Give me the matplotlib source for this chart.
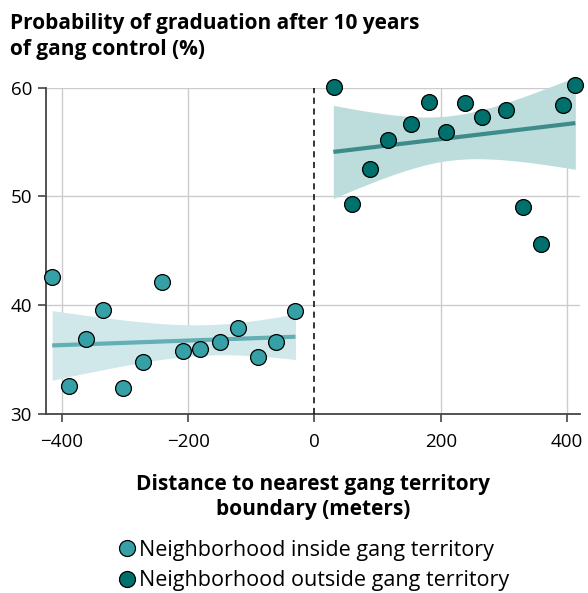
import numpy as np
import matplotlib
matplotlib.use("Agg")
import matplotlib.pyplot as plt
from matplotlib.lines import Line2D

plt.rcParams['font.family'] = ['Open Sans', 'Noto Sans', 'DejaVu Sans']

# Scatter data
inside_x = [-415, -389, -361, -335, -303, -272, -241, -208, -181, -150, -121, -90, -61, -30]
inside_y = [42.6, 32.6, 36.9, 39.6, 32.4, 34.8, 42.1, 35.8, 36.0, 36.6, 37.9, 35.2, 36.6, 39.5]
outside_x = [31, 59, 88, 117, 153, 181, 208, 239, 266, 303, 330, 358, 393, 413]
outside_y = [60.1, 49.3, 52.5, 55.2, 56.7, 58.7, 55.95, 58.6, 57.3, 58.0, 49.05, 45.6, 58.4, 60.3]

# Fitted lines (start/end) and confidence band half-widths (left end, narrowest, right end)
inside_fit_x = [-415, -30]
inside_fit_y = [36.3, 37.1]
inside_band_center = -166
inside_band_half = [3.2, 1.4, 2.1]
outside_fit_x = [30, 413]
outside_fit_y = [54.1, 56.75]
outside_band_center = 215
outside_band_half = [4.28, 2.05, 4.25]

x_ticks = [-400, -200, 0, 200, 400]
x_tick_labels = ['\u2212400', '\u2212200', '0', '200', '400']
y_ticks = [30, 40, 50, 60]

labels = ['Neighborhood inside gang territory', 'Neighborhood outside gang territory']
marker_colors = ['#35A0A5', '#00706C']
line_colors = ['#63AFB3', '#3E8C89']
band_colors = ['#D0E8EA', '#BDDCDC']


def band(fit_x, fit_y, xc, halves):
    xs = np.linspace(fit_x[0], fit_x[1], 120)
    slope = (fit_y[1] - fit_y[0]) / (fit_x[1] - fit_x[0])
    yh = fit_y[0] + slope * (xs - fit_x[0])
    h0 = halves[1]
    hl, hr = halves[0], halves[2]
    kl = (hl ** 2 - h0 ** 2) / (fit_x[0] - xc) ** 2
    kr = (hr ** 2 - h0 ** 2) / (fit_x[1] - xc) ** 2
    k = np.where(xs < xc, kl, kr)
    h = np.sqrt(h0 ** 2 + k * (xs - xc) ** 2)
    return xs, yh, yh - h, yh + h


fig = plt.figure(figsize=(5.88, 5.93), dpi=100)
ax = fig.add_axes([0.078, 0.302, 0.908, 0.550])

groups = [
    (inside_x, inside_y, inside_fit_x, inside_fit_y, inside_band_center, inside_band_half),
    (outside_x, outside_y, outside_fit_x, outside_fit_y, outside_band_center, outside_band_half),
]
for (xx, yy, fx, fy, xc, hv), mc, lc, bc in zip(groups, marker_colors, line_colors, band_colors):
    xs, yh, lo, hi = band(fx, fy, xc, hv)
    ax.fill_between(xs, lo, hi, color=bc, lw=0, zorder=2, clip_on=False)
    ax.plot(xs, yh, color=lc, lw=3, zorder=3, clip_on=False, solid_capstyle='butt')
    ax.scatter(xx, yy, s=130, color=mc, edgecolor='black', linewidth=0.9, zorder=4, clip_on=False)

ax.axvline(0, color='black', lw=1.1, ls=(0, (4, 3)), zorder=3)

ax.set_xlim(-425, 420)
ax.set_ylim(30, 60)
ax.set_xticks(x_ticks)
ax.set_xticklabels(x_tick_labels)
ax.set_yticks(y_ticks)
for xv in x_ticks:
    if xv != 0:
        ax.axvline(xv, color='#CCCCCC', lw=1, zorder=1)
for yv in y_ticks[1:]:
    ax.axhline(yv, color='#CCCCCC', lw=1, zorder=1)

for s in ['top', 'right']:
    ax.spines[s].set_visible(False)
for s in ['left', 'bottom']:
    ax.spines[s].set_color('#444444')
    ax.spines[s].set_linewidth(1.3)
ax.tick_params(axis='both', length=6, width=1.2, color='#444444', labelsize=13.5)
ax.tick_params(axis='x', pad=8)
ax.tick_params(axis='y', pad=4)

ax.set_xlabel('Distance to nearest gang territory\nboundary (meters)', fontsize=15,
              fontweight='bold', labelpad=16, linespacing=1.3)

fig.text(0.017, 0.978, 'Probability of graduation after 10 years\nof gang control (%)',
         fontsize=15, fontweight='bold', ha='left', va='top', linespacing=1.3)

handles = [Line2D([], [], marker='o', ls='none', markersize=11.5, markerfacecolor=c,
                  markeredgecolor='black', markeredgewidth=0.9) for c in marker_colors]
fig.legend(handles, labels, loc='upper center', bbox_to_anchor=(0.532, 0.108), ncol=1,
           frameon=False, fontsize=15.5, handletextpad=0.05, labelspacing=0.45,
           handlelength=1.0, borderpad=0)

fig.savefig('out.png', dpi=100)
